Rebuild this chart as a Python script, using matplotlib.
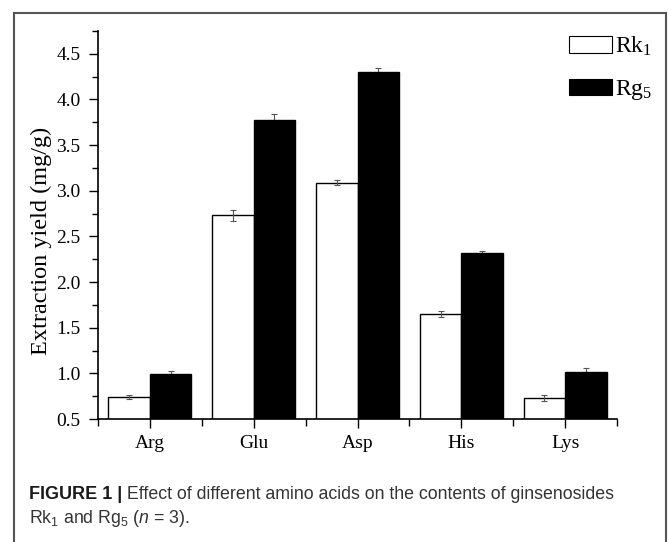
import matplotlib
matplotlib.use('Agg')
import matplotlib.pyplot as plt
from matplotlib.lines import Line2D
from matplotlib.ticker import MultipleLocator
import numpy as np

# data
amino_acids = ['Arg', 'Glu', 'Asp', 'His', 'Lys']
rk1 = [0.74, 2.73, 3.09, 1.65, 0.73]
rk1_err = [0.02, 0.06, 0.03, 0.03, 0.03]
rg5 = [0.99, 3.78, 4.30, 2.32, 1.02]
rg5_err = [0.04, 0.06, 0.045, 0.02, 0.04]

plt.rcParams['font.family'] = ['Liberation Serif', 'DejaVu Serif']
plt.rcParams['mathtext.fontset'] = 'custom'
plt.rcParams['mathtext.it'] = 'Liberation Sans:italic'
plt.rcParams['mathtext.default'] = 'regular'

fig = plt.figure(figsize=(6.69, 5.42), dpi=100)
ax = fig.add_axes([98 / 669, 1 - 419 / 542, (617 - 98) / 669, (419 - 31) / 542])

x = np.arange(len(amino_acids))
w = 0.40
ax.bar(x - w / 2, rk1, w, color='white', edgecolor='black', linewidth=1.0,
       label=r'Rk$_1$', zorder=2)
ax.errorbar(x - w / 2, rk1, yerr=rk1_err, fmt='none', ecolor='#555555', elinewidth=0.8,
            capsize=2.5, capthick=0.8, zorder=3)
ax.errorbar(x + w / 2, rg5, yerr=rg5_err, fmt='none', ecolor='#555555', elinewidth=0.8,
            capsize=2.5, capthick=0.8, zorder=1)
ax.bar(x + w / 2, rg5, w, color='black', edgecolor='black', linewidth=1.0,
       label=r'Rg$_5$', zorder=2)

ax.set_xlim(-0.5, 4.5)
ax.set_ylim(0.5, 4.75)
ax.set_xticks(x)
ax.set_xticklabels(amino_acids)
ax.xaxis.set_minor_locator(MultipleLocator(1.0, offset=0.5))
ax.yaxis.set_minor_locator(MultipleLocator(0.25))
ax.set_yticks(np.arange(0.5, 4.51, 0.5))
ax.set_yticklabels(['%.1f' % v for v in np.arange(0.5, 4.51, 0.5)])
ax.tick_params(axis='both', which='major', direction='out', length=6.5, width=1.0,
               labelsize=14, colors='black')
ax.tick_params(axis='both', which='minor', direction='out', length=4.5, width=1.0)
ax.tick_params(axis='x', which='minor', length=5)
ax.tick_params(axis='x', which='major', pad=5)
ax.tick_params(axis='y', which='major', pad=6)
for s in ['top', 'right']:
    ax.spines[s].set_visible(False)
for s in ['left', 'bottom']:
    ax.spines[s].set_linewidth(1.2)
ax.set_ylabel('Extraction yield (mg/g)', fontsize=17.5)
ax.yaxis.set_label_coords(-0.088, 0.46)

leg = ax.legend(loc='upper right', bbox_to_anchor=(1.109, 1.045), frameon=False, fontsize=17,
                handlelength=1.82, handleheight=0.68, labelspacing=0.85, handletextpad=0.15)
for p in leg.get_patches():
    p.set_linewidth(0.8)

# outer panel frame
frame_col = '#555555'
fig.add_artist(Line2D([14 / 669, 14 / 669], [0, 1 - 13 / 542], color=frame_col, lw=1.5,
                      transform=fig.transFigure))
fig.add_artist(Line2D([14 / 669, 666 / 669], [1 - 13 / 542, 1 - 13 / 542], color=frame_col,
                      lw=1.5, transform=fig.transFigure))
fig.add_artist(Line2D([666 / 669, 666 / 669], [0, 1 - 13 / 542], color=frame_col, lw=1.5,
                      transform=fig.transFigure))

# caption
cap_col = '#333333'
t1 = fig.text(29 / 669, 1 - 499 / 542, 'FIGURE 1 |', fontsize=13, fontweight='bold',
              family='Liberation Sans', color='#1a1a1a', va='baseline')
ax.annotate(' Effect of different amino acids on the contents of ginsenosides',
            xy=(1, 0), xycoords=t1, va='bottom', fontsize=12.75,
            family='Liberation Sans', color=cap_col, annotation_clip=False)
fig.text(29 / 669, 1 - 523 / 542, r'Rk$_1$ and Rg$_5$ ($\mathit{n}$ = 3).', fontsize=12.75,
         family='Liberation Sans', color=cap_col, va='baseline')

fig.savefig('out.png', dpi=100)
